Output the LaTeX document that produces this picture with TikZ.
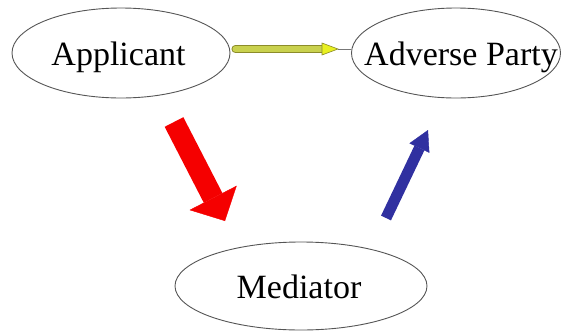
\documentclass[tikz,border=0pt]{standalone}
\usepackage{fontspec}
\setmainfont{Liberation Serif}
\usetikzlibrary{shapes.geometric,arrows.meta}

\definecolor{rimgrey}{RGB}{85,85,85}
\definecolor{shaftyellow}{RGB}{201,209,78}
\definecolor{headyellow}{RGB}{232,240,32}
\definecolor{olivedge}{RGB}{140,140,42}
\definecolor{blockred}{RGB}{245,0,0}
\definecolor{blocknavy}{RGB}{48,48,160}

% a label of zero width, nudged sideways and lowered onto the ellipse's waist
\newcommand{\partylabel}[2]{\makebox[0pt]{\hspace{#1}\raisebox{-8.5pt}{#2}}}

\tikzset{
  party/.style={ellipse, draw=rimgrey, line width=0.9pt, inner sep=0pt,
    text height=0.7em, text depth=0pt, font=\fontsize{34}{40}\selectfont},
  redblock/.style={blockred, line width=21pt,
    -{Triangle[width=53pt,length=26pt,line width=0.4pt]}},
  navyblock/.style={blocknavy, line width=11pt,
    -{Triangle[width=22pt,length=20pt,line width=0.4pt]}},
  feedrim/.style={olivedge, line width=8pt, line cap=round},
  feedcore/.style={shaftyellow, line width=6pt, line cap=round},
  feedhead/.style={fill=headyellow, draw=olivedge, line width=0.6pt},
  feedlead/.style={draw=rimgrey!80, line width=1pt}
}

\begin{document}
\begin{tikzpicture}[x=1pt,y=-1pt]
  \useasboundingbox (0,0) rectangle (563,330);

  % the three parties
  \node[party, minimum width=218pt, minimum height=90pt] (app) at (121,53)
    {\partylabel{-5pt}{Applicant}};
  \node[party, minimum width=209pt, minimum height=90pt] (adv) at (456,53)
    {\partylabel{10pt}{Adverse Party}};
  \node[party, minimum width=252pt, minimum height=88pt] (med) at (301,286)
    {\partylabel{-4pt}{Mediator}};

  % direct request: applicant to adverse party
  \coordinate (ytail) at ([xshift=5pt,yshift=4pt]app.east);
  \coordinate (yneck) at (322,49);
  \coordinate (ytip)  at (338,49);
  \coordinate (yend)  at (adv.west |- ytail);
  \draw[feedlead] (ytip) -- (yend);
  \draw[feedrim]  (ytail) -- (yneck);
  \draw[feedcore] (ytail) -- (yneck);
  \draw[feedhead] ([yshift=-6pt]yneck) -- (ytip) -- ([yshift=6pt]yneck) -- cycle;

  % referral to the mediator
  \coordinate (rtail) at (174,122);
  \coordinate (rtip)  at (225,221);
  \draw[redblock] (rtail) -- (rtip);

  % mediator reaching the adverse party
  \coordinate (btail) at (386,218);
  \coordinate (btip)  at (428,130);
  \draw[navyblock] (btail) -- (btip);
\end{tikzpicture}
\end{document}
